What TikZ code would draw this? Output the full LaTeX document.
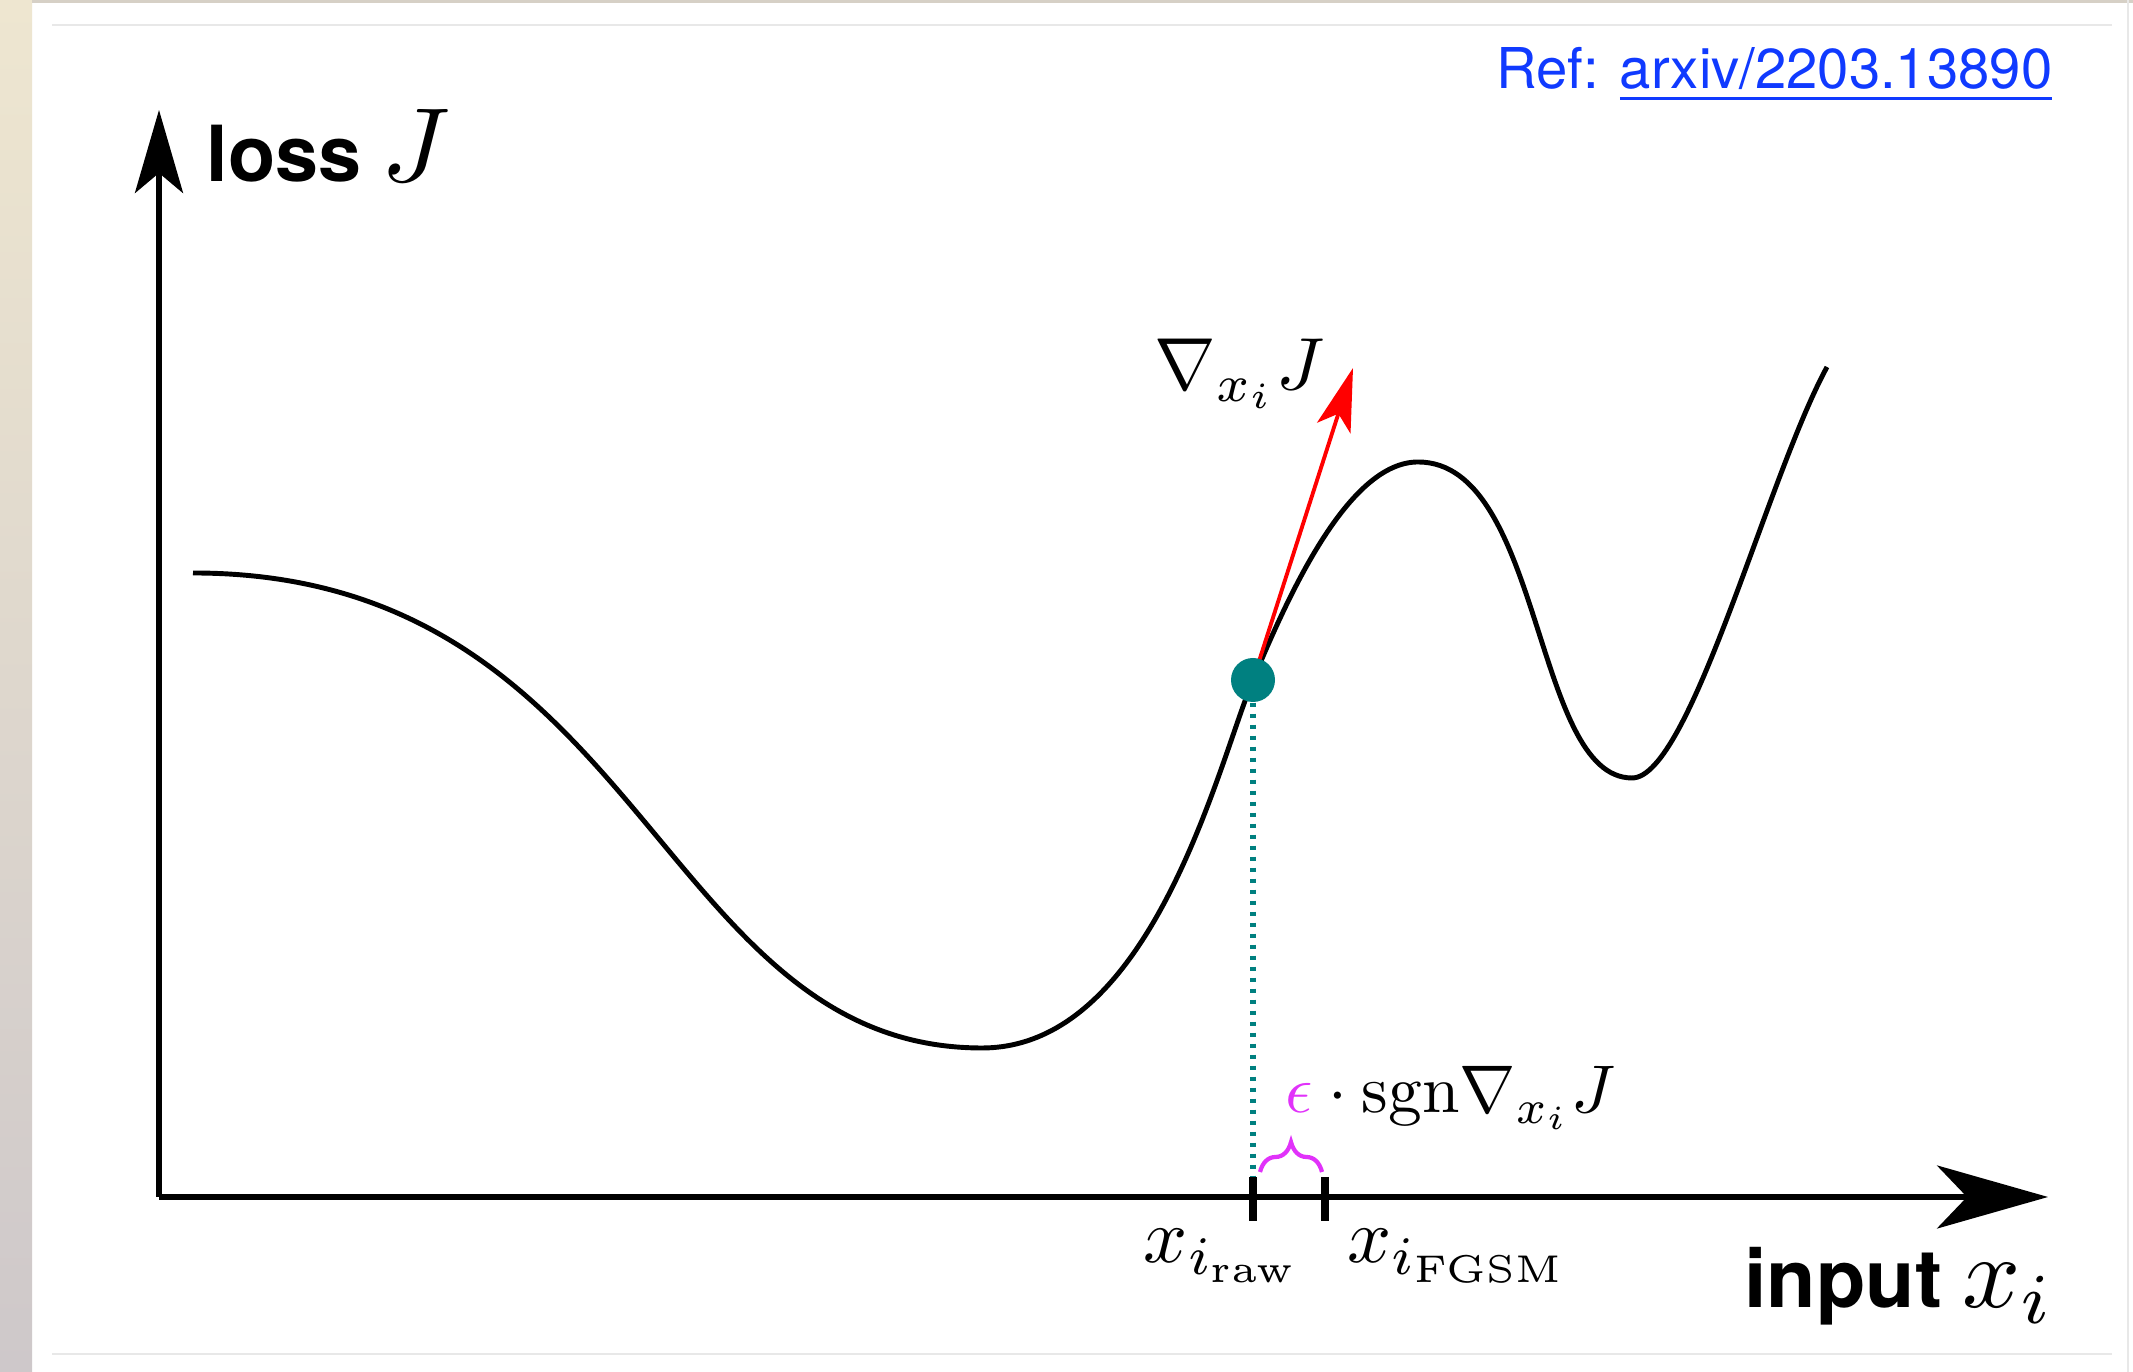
\documentclass[tikz,border=0pt]{standalone}
\usepackage{amsmath}
\usepackage[no-math]{fontspec}
\setsansfont{TeX Gyre Heros}
\usetikzlibrary{positioning,arrows.meta,calc,decorations.pathreplacing}
\definecolor{gradclr}{RGB}{255,0,0}
\definecolor{ptclr}{RGB}{0,128,128}
\definecolor{epsclr}{RGB}{225,50,250}
\definecolor{refclr}{RGB}{16,58,255}
\definecolor{rimclr}{RGB}{232,232,232}
\definecolor{stripclr}{RGB}{214,208,198}
\definecolor{striptop}{RGB}{238,230,208}
\definecolor{stripbot}{RGB}{206,200,202}
\newcommand{\mbig}[2]{\scalebox{#1}{\normalsize$#2$}}
\tikzset{
    axisline/.style={line width=1.6pt},
    yaxis/.style={axisline,-{Stealth[length=8.3mm,width=4.8mm,inset=2mm]}},
    xaxis/.style={axisline,-{Stealth[length=11.1mm,width=6.3mm,inset=3mm]}},
    losscurve/.style={line width=1.4pt},
    grad/.style={draw=gradclr,line width=1.1pt,-{Stealth[length=6.3mm,width=3.5mm,inset=1.5mm]}},
    ptdot/.style={circle,fill=ptclr,minimum size=4.4mm,inner sep=0pt},
    projline/.style={draw=ptclr,line width=1.5pt,dash pattern=on 0.4mm off 0.7mm},
    tickmark/.style={line width=2.3pt},
    epsbrace/.style={draw=epsclr,line width=1.2pt,decorate,decoration={brace,amplitude=3mm}},
    axlabel/.style={font=\sffamily\bfseries\fontsize{22}{26}\selectfont,inner sep=0pt},
    mlabel/.style={inner sep=0pt},
    reflabel/.style={font=\sffamily\fontsize{16}{20}\selectfont,text=refclr,inner sep=0pt},
}
\begin{document}
\begin{tikzpicture}
\useasboundingbox (0,0) rectangle (21.33,13.72);
% card and frame
\fill[white] (0,0) rectangle (21.33,13.72);
\shade[top color=striptop,bottom color=stripbot] (0,0) rectangle (0.32,13.72);
\fill[stripclr] (0.32,13.69) rectangle (21.33,13.72);
\draw[rimclr] (0.52,13.47) -- (21.12,13.47);
\draw[rimclr] (0.52,0.18) -- (21.12,0.18);
\draw[rimclr] (21.28,0) -- (21.28,13.72);

\node[reflabel,anchor=base east] (ref) at (20.53,12.83) {Ref: \underline{arxiv/2203.13890}};

% axes
\coordinate (O) at (1.59,1.75);
\coordinate (ytip) at (1.59,12.62);
\coordinate (xtip) at (20.48,1.75);
\draw[yaxis] (O) -- (ytip);
\draw[xaxis] (O) -- (xtip);
\node[axlabel,anchor=base west] (ylab) at (2.06,11.90) {loss\hspace{0.2cm}\mbig{3.0}{J}};
\node[axlabel,font=\sffamily\bfseries\fontsize{23}{27}\selectfont,anchor=base east] (xlab) at (20.55,0.64) {input\hspace{0.2cm}\mbig{2.9}{x_i}};

% loss landscape
\coordinate (p) at (12.53,6.92);
\draw[losscurve] (1.93,7.99) .. controls (6.45,7.99) and (6.57,3.24) .. (9.82,3.24)
  .. controls (11.52,3.24) and (12.18,6.08) .. (p)
  .. controls (12.88,7.76) and (13.48,9.10) .. (14.18,9.10)
  .. controls (15.43,9.10) and (15.33,5.94) .. (16.32,5.94)
  .. controls (16.90,5.94) and (17.67,8.95) .. (18.27,10.05);

% gradient and sample
\coordinate (gtip) at (13.53,10.04);
\draw[grad] (p) -- (gtip);
\node[ptdot] (pt) at (p) {};
\node[mlabel,anchor=base west] (glab) at (11.54,9.82) {\mbig{2.1}{\nabla_{x_i}J}};

\coordinate (raw) at (12.53,1.75);
\coordinate (fgsm) at (13.25,1.75);
\draw[projline] (pt.south) -- ($(raw)+(0,0.2)$);
\draw[tickmark] ($(raw)+(0,0.2)$) -- ($(raw)+(0,-0.24)$);
\draw[tickmark] ($(fgsm)+(0,0.2)$) -- ($(fgsm)+(0,-0.24)$);
\node[mlabel,anchor=base east] (rawlab) at (13.02,1.09) {\mbig{2.2}{x_{i_{\mathrm{raw}}}}};
\node[mlabel,anchor=base west] (fgsmlab) at (13.47,1.09) {\mbig{2.2}{x_{i_{\mathrm{FGSM}}}}};

\draw[epsbrace] (12.60,2.00) -- (13.22,2.00);
\node[mlabel,anchor=base west] (epslab) at (12.85,2.59) {\mbig{1.92}{{\color{epsclr}\epsilon}\cdot\mathrm{sgn}\nabla_{x_i}J}};
\end{tikzpicture}
\end{document}
